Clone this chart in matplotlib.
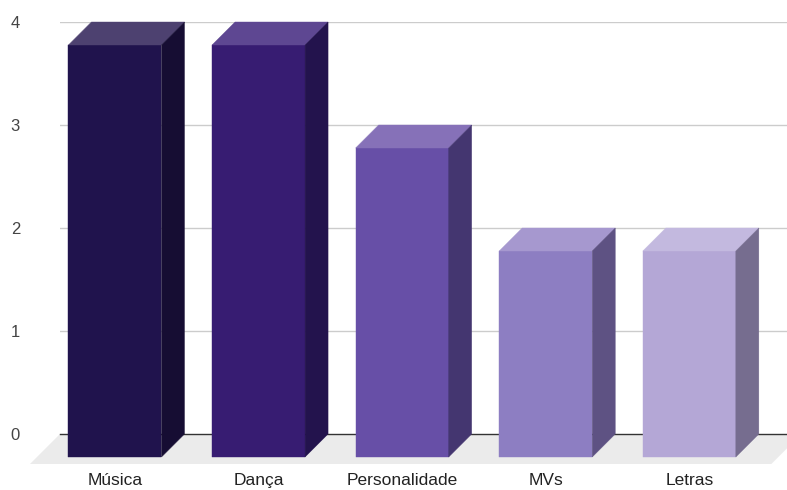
"""Pseudo-3D column chart: favourite aspects."""

import matplotlib.pyplot as plt
from matplotlib.patches import Polygon

categories = ["Música", "Dança", "Personalidade", "MVs", "Letras"]
values = [4, 4, 3, 2, 2]
front_colors = ["#20134d", "#371c72", "#674fa7", "#8d7ec2", "#b4a7d6"]
top_colors = ["#4d4170", "#5e4792", "#8671b8", "#a698cf", "#c3b9df"]
side_colors = ["#160d33", "#23134d", "#443670", "#5e5283", "#766d8f"]
yticks = [0, 1, 2, 3, 4]

W, H = 787, 490
fig = plt.figure(figsize=(W / 100, H / 100), dpi=100)
# axes = back plane of the 3D box
ax = fig.add_axes([60 / W, (H - 434) / H, 727 / W, 412 / H])
ax.set_xlim(-0.543, 4.52)
ax.set_ylim(0, 4)

px_x = 727 / (4.52 + 0.543)  # pixels per category unit
px_y = 412 / 4               # pixels per value unit
dx = 23 / px_x               # bar depth in data units
dy = 23 / px_y
fdx = 30 / px_x              # floor depth
fdy = 30 / px_y
width = 93 / px_x

# floor
x0, x1 = ax.get_xlim()
ax.add_patch(Polygon([(x0, 0), (x1 + 0.1, 0), (x1 + 0.1 - fdx, -fdy), (x0 - fdx, -fdy)],
                     closed=True, facecolor="#ebebeb", edgecolor="none",
                     clip_on=False, zorder=1))

# grid
for t in yticks[1:]:
    ax.axhline(t, color="#cccccc", lw=1, zorder=0.5)
ax.axhline(0, color="#333333", lw=1, zorder=1.5, clip_on=False)

for i, v in enumerate(values):
    l = i - width / 2
    r = i + width / 2
    # front face
    ax.add_patch(Polygon([(l - dx, -dy), (r - dx, -dy), (r - dx, v - dy), (l - dx, v - dy)],
                         facecolor=front_colors[i], edgecolor=front_colors[i], lw=0.3,
                         clip_on=False, zorder=3))
    # top face
    ax.add_patch(Polygon([(l - dx, v - dy), (r - dx, v - dy), (r, v), (l, v)],
                         facecolor=top_colors[i], edgecolor=top_colors[i], lw=0.3,
                         clip_on=False, zorder=3))
    # side face
    ax.add_patch(Polygon([(r - dx, -dy), (r, 0), (r, v), (r - dx, v - dy)],
                         facecolor=side_colors[i], edgecolor=side_colors[i], lw=0.3,
                         clip_on=False, zorder=3))
    ax.text(i - dx, -fdy - 0.165, categories[i], ha="center", va="center",
            fontsize=12.5, color="#222222", family="Liberation Sans")

ax.set_yticks(yticks)
ax.set_yticklabels([str(t) for t in yticks], fontsize=12, color="#444444",
                   family="Liberation Sans")
ax.tick_params(axis="y", length=0, pad=40 * 0.72)
ax.set_xticks([])
for s in ax.spines.values():
    s.set_visible(False)

fig.savefig("out.png", dpi=100)
